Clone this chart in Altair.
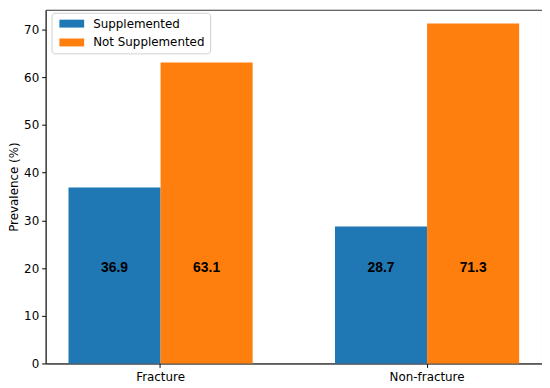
import altair as alt
import pandas as pd

groups = ["Fracture", "Fracture", "Non-fracture", "Non-fracture"]
series = ["Supplemented", "Not Supplemented", "Supplemented", "Not Supplemented"]
values = [36.9, 63.1, 28.7, 71.3]
series_order = ["Supplemented", "Not Supplemented"]
colors = ["#1f77b4", "#ff7f0e"]
y_ticks = [0, 10, 20, 30, 40, 50, 60, 70]
label_level = 20

df = pd.DataFrame({"group": groups, "series": series, "value": values})
df["label"] = df["value"].map(lambda v: f"{v:.1f}")

FONT = "DejaVu Sans"
FS = 12

x_enc = alt.X("group:N", sort=["Fracture", "Non-fracture"],
              scale=alt.Scale(paddingInner=0.309, paddingOuter=0.0857),
              axis=alt.Axis(title=None, labelAngle=0, labelFontSize=FS, labelFont=FONT,
                            labelColor="#000", tickColor="#000", tickSize=4,
                            domainColor="#333", labelPadding=4))
xo_enc = alt.XOffset("series:N", sort=series_order,
                     scale=alt.Scale(paddingInner=0, paddingOuter=0))

bars = alt.Chart(df).mark_bar().encode(
    x=x_enc,
    xOffset=xo_enc,
    y=alt.Y("value:Q", scale=alt.Scale(domain=[0, 74.16], nice=False, zero=True),
            axis=alt.Axis(title="Prevalence (%)", values=y_ticks, grid=False,
                          labelFontSize=FS, labelFont=FONT, labelColor="#000",
                          tickColor="#000", tickSize=4, domainColor="#333",
                          titleFont=FONT, titleFontSize=FS, titleFontWeight="normal",
                          titleColor="#000", titlePadding=3, labelPadding=3)),
    color=alt.Color("series:N", sort=series_order,
                    scale=alt.Scale(domain=series_order, range=colors),
                    legend=alt.Legend(title=None, orient="none", legendX=6, legendY=3,
                                      labelFont=FONT, labelFontSize=FS, labelColor="#000",
                                      symbolType="M-1,-1.28H7V1.28H-1Z", symbolSize=39,
                                      symbolStrokeWidth=0, symbolOpacity=1,
                                      strokeColor="#d0d0d0", fillColor="white",
                                      cornerRadius=3, padding=5, rowPadding=7,
                                      labelOffset=25)),
)

texts = alt.Chart(df).mark_text(fontWeight="bold", fontSize=14, font="Liberation Sans",
                                color="black", baseline="middle").encode(
    x=alt.X("group:N", sort=["Fracture", "Non-fracture"]),
    xOffset=xo_enc,
    y=alt.datum(label_level),
    text="label:N",
)

chart = (bars + texts).properties(
    width=501, height=357,
    autosize=alt.AutoSizeParams(type="none"),
    padding={"left": 38, "top": 0, "right": 0, "bottom": 22},
).configure_view(stroke="#333", strokeWidth=1)

chart.save("out.html", embed_options={"renderer": "svg", "actions": False})
